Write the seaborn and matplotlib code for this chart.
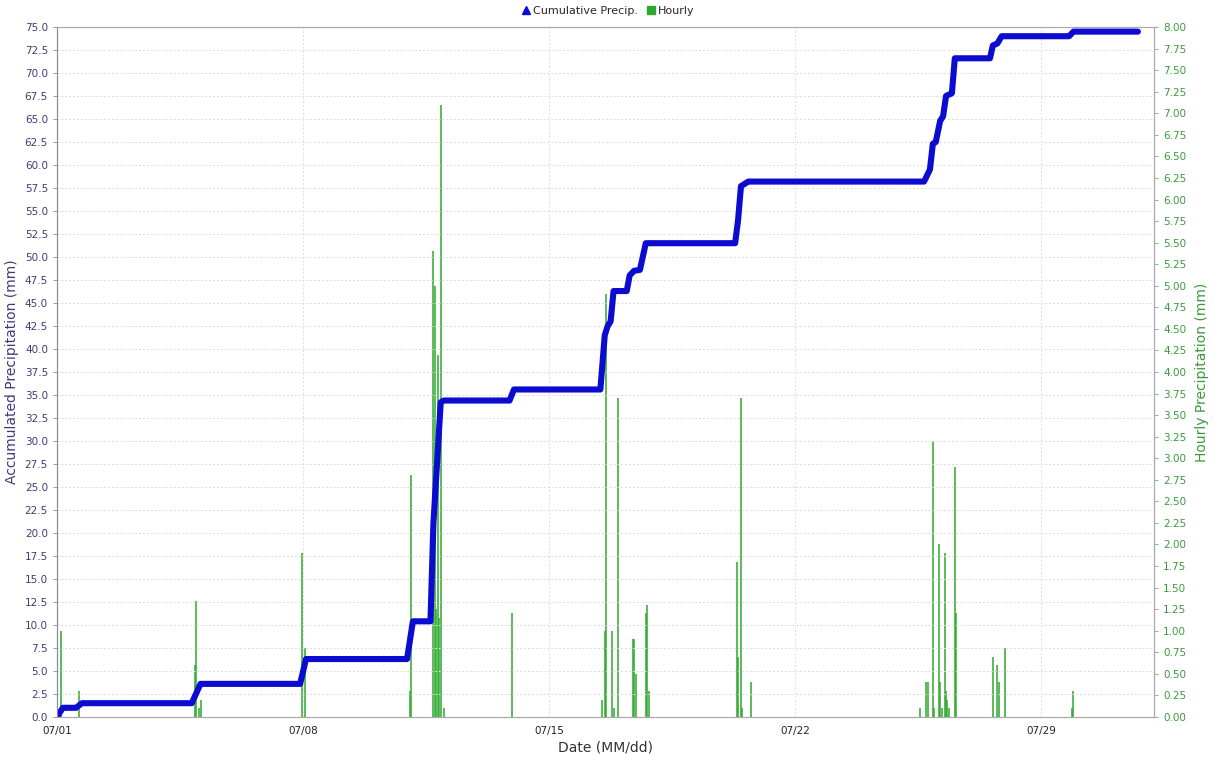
import pandas as pd
import matplotlib
matplotlib.use("Agg")
import matplotlib.pyplot as plt
import matplotlib.dates as mdates
from matplotlib.lines import Line2D
from matplotlib.ticker import MultipleLocator, FormatStrFormatter
import seaborn as sns

# Hourly precipitation (mm)
hourly_times = [
    "2016-07-01 03:00", "2016-07-01 15:00",
    "2016-07-04 22:00", "2016-07-04 23:00", "2016-07-05 01:00", "2016-07-05 02:00",
    "2016-07-07 23:00", "2016-07-08 01:00",
    "2016-07-11 01:00", "2016-07-11 02:00",
    "2016-07-11 17:00", "2016-07-11 18:00", "2016-07-11 19:00", "2016-07-11 20:00",
    "2016-07-11 21:00", "2016-07-11 22:00", "2016-07-12 00:00",
    "2016-07-13 23:00",
    "2016-07-16 12:00", "2016-07-16 14:00", "2016-07-16 15:00", "2016-07-16 19:00",
    "2016-07-16 20:00", "2016-07-16 23:00",
    "2016-07-17 09:00", "2016-07-17 10:00", "2016-07-17 11:00",
    "2016-07-17 18:00", "2016-07-17 19:00", "2016-07-17 20:00",
    "2016-07-20 08:00", "2016-07-20 09:00", "2016-07-20 11:00", "2016-07-20 12:00",
    "2016-07-20 18:00",
    "2016-07-25 13:00", "2016-07-25 17:00", "2016-07-25 19:00", "2016-07-25 22:00",
    "2016-07-25 23:00", "2016-07-26 02:00", "2016-07-26 03:00", "2016-07-26 04:00",
    "2016-07-26 06:00", "2016-07-26 07:00", "2016-07-26 08:00", "2016-07-26 09:00",
    "2016-07-26 13:00", "2016-07-26 14:00",
    "2016-07-27 15:00", "2016-07-27 18:00", "2016-07-27 19:00", "2016-07-27 23:00",
    "2016-07-29 21:00", "2016-07-29 22:00",
]
hourly_mm = [
    1.0, 0.3,
    0.6, 1.35, 0.1, 0.2,
    1.9, 0.8,
    0.3, 2.8,
    5.4, 5.0, 1.25, 4.2,
    1.15, 7.1, 0.1,
    1.2,
    0.2, 1.0, 4.9, 1.0,
    0.1, 3.7,
    0.9, 0.9, 0.5,
    1.2, 1.3, 0.3,
    1.8, 0.7, 3.7, 0.1,
    0.4,
    0.1, 0.4, 0.4, 3.2,
    0.1, 2.0, 0.4, 0.1,
    1.9, 0.3, 0.2, 0.1,
    2.9, 1.2,
    0.7, 0.6, 0.4, 0.8,
    0.1, 0.3,
]

# Cumulative precipitation (mm)
cum_times = [
    "2016-07-01 00:00", "2016-07-01 04:00", "2016-07-01 13:00", "2016-07-01 17:00",
    "2016-07-04 20:00", "2016-07-05 02:00", "2016-07-07 22:00", "2016-07-08 02:00",
    "2016-07-10 23:00", "2016-07-11 03:00", "2016-07-11 15:00", "2016-07-11 17:00",
    "2016-07-11 22:00", "2016-07-12 00:00", "2016-07-13 21:00", "2016-07-14 00:00",
    "2016-07-16 11:00", "2016-07-16 14:00", "2016-07-16 16:00", "2016-07-16 18:00",
    "2016-07-16 20:00", "2016-07-17 05:00", "2016-07-17 07:00", "2016-07-17 10:00",
    "2016-07-17 14:00", "2016-07-17 18:00", "2016-07-20 07:00", "2016-07-20 09:00",
    "2016-07-20 11:00", "2016-07-20 14:00", "2016-07-20 16:00", "2016-07-25 16:00",
    "2016-07-25 20:00", "2016-07-25 22:00", "2016-07-26 00:00", "2016-07-26 03:00",
    "2016-07-26 05:00", "2016-07-26 07:00", "2016-07-26 11:00", "2016-07-26 13:00",
    "2016-07-27 13:00", "2016-07-27 15:00", "2016-07-27 18:00", "2016-07-27 21:00",
    "2016-07-29 19:00", "2016-07-29 22:00", "2016-07-31 18:00",
]
cum_mm = [
    0.0, 1.0, 1.0, 1.5,
    1.5, 3.6, 3.6, 6.3,
    6.3, 10.4, 10.4, 21.0,
    34.2, 34.4, 34.4, 35.6,
    35.6, 41.5, 42.5, 43.0,
    46.3, 46.3, 48.0, 48.5,
    48.6, 51.5, 51.5, 54.0,
    57.7, 58.0, 58.2, 58.2,
    59.5, 62.3, 62.5, 64.8,
    65.3, 67.5, 67.8, 71.6,
    71.6, 73.0, 73.2, 74.0,
    74.0, 74.5, 74.5,
]

date_ticks = ["2016-07-01", "2016-07-08", "2016-07-15", "2016-07-22", "2016-07-29"]

hourly = pd.DataFrame({"time": pd.to_datetime(hourly_times), "mm": hourly_mm})
cum = pd.DataFrame({"time": pd.to_datetime(cum_times), "mm": cum_mm})

blue = "#0c0cd0"
green = "#2ea82e"
left_col = "#3c3c7a"
right_col = "#3a9a3a"

sns.set_style("white")
fig = plt.figure(figsize=(12.15, 7.63), dpi=100)
ax = fig.add_axes([0.0469, 0.0603, 0.9029, 0.9043])
ax2 = ax.twinx()

# hourly bars on the right axis (thin vertical bars)
ax2.vlines(hourly["time"], 0, hourly["mm"], color=green, linewidth=1.1)
ax2.set_ylim(0, 8)
ax2.yaxis.set_major_locator(MultipleLocator(0.25))
ax2.yaxis.set_major_formatter(FormatStrFormatter("%.2f"))
ax2.tick_params(axis="y", colors="#88a088", labelsize=7.5, length=3, width=0.6,
                labelcolor=right_col)
ax2.set_ylabel("Hourly Precipitation (mm)", color=right_col, fontsize=10, labelpad=6)

# cumulative line on the left axis, drawn above the bars
ax.set_zorder(ax2.get_zorder() + 1)
ax.patch.set_visible(False)
sns.lineplot(data=cum, x="time", y="mm", ax=ax, color=blue, linewidth=4.4,
             solid_joinstyle="round")
ax.set_ylim(0, 75)
ax.yaxis.set_major_locator(MultipleLocator(2.5))
ax.yaxis.set_major_formatter(FormatStrFormatter("%.1f"))
ax.tick_params(axis="y", colors="#888899", labelsize=7.5, length=3, width=0.6,
               labelcolor=left_col)
ax.set_ylabel("Accumulated Precipitation (mm)", color=left_col, fontsize=10, labelpad=4)

ax.set_xlim(pd.Timestamp("2016-07-01 00:00"), pd.Timestamp("2016-08-01 05:00"))
ax.set_xticks(pd.to_datetime(date_ticks))
ax.xaxis.set_major_formatter(mdates.DateFormatter("%m/%d"))
ax.tick_params(axis="x", colors="#999999", labelsize=7.5, length=3, width=0.6,
               labelcolor="#222222")
ax.set_xlabel("Date (MM/dd)", color="#333333", fontsize=10, labelpad=3)

ax.grid(True, color="#dcdcdc", linestyle=(0, (2, 2)), linewidth=0.7)
ax2.grid(False)

for a in (ax, ax2):
    for s in a.spines.values():
        s.set_color("#aaaaaa")
        s.set_linewidth(0.8)
ax.spines["left"].set_color("#8888a0")
ax2.spines["right"].set_color("#88a088")

handles = [
    Line2D([], [], marker="^", color=blue, linestyle="none", markersize=6),
    Line2D([], [], marker="s", color=green, linestyle="none", markersize=6),
]
fig.legend(handles, ["Cumulative Precip.", "Hourly"], loc="upper center",
           bbox_to_anchor=(0.5, 1.005), ncol=2, frameon=False, fontsize=8,
           handletextpad=0.2, columnspacing=0.6, handlelength=1.0)

fig.savefig("out.png", dpi=100)
